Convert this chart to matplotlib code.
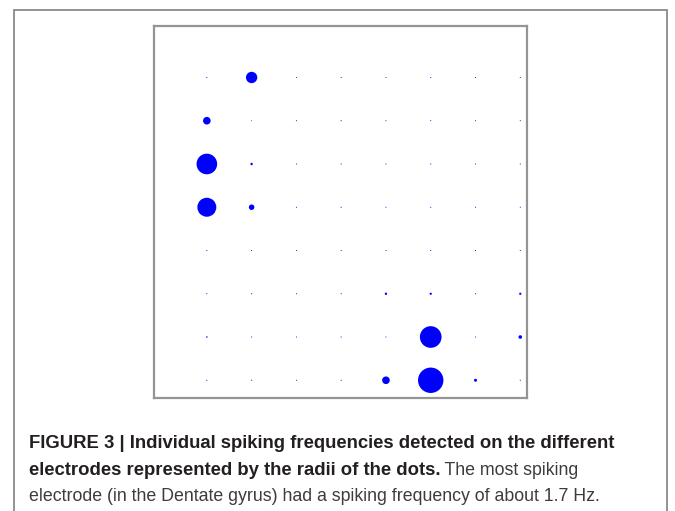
import numpy as np
import matplotlib
matplotlib.use('Agg')
import matplotlib.pyplot as plt
from matplotlib.patches import Rectangle

# spiking frequency per electrode [Hz], rows top -> bottom, cols left -> right
freq = [
    [0.07, 0.76, 0.07, 0.07, 0.07, 0.07, 0.07, 0.07],
    [0.51, 0.06, 0.07, 0.07, 0.07, 0.07, 0.07, 0.07],
    [1.38, 0.16, 0.07, 0.07, 0.07, 0.07, 0.07, 0.07],
    [1.27, 0.37, 0.07, 0.07, 0.07, 0.07, 0.07, 0.07],
    [0.07, 0.07, 0.07, 0.07, 0.07, 0.07, 0.07, 0.07],
    [0.07, 0.07, 0.07, 0.07, 0.16, 0.15, 0.07, 0.15],
    [0.10, 0.07, 0.07, 0.07, 0.07, 1.45, 0.07, 0.24],
    [0.07, 0.07, 0.07, 0.07, 0.51, 1.70, 0.20, 0.07],
]

caption_bold_1 = 'FIGURE 3 | Individual spiking frequencies detected on the different'
caption_bold_2 = 'electrodes represented by the radii of the dots.'
caption_reg_2 = ' The most spiking'
caption_reg_3 = 'electrode (in the Dentate gyrus) had a spiking frequency of about 1.7 Hz.'

W, H, dpi = 675, 511, 100
fig = plt.figure(figsize=(W / dpi, H / dpi), dpi=dpi)

# outer frame of the figure panel
fig.patches.append(Rectangle((14 / W, -0.1), (667 - 14) / W, 1.1 - 10 / H,
                             transform=fig.transFigure, fill=False,
                             edgecolor='#8a8a8a', linewidth=1.3))

ax = fig.add_axes([154 / W, (H - 398) / H, (527 - 154) / W, (398 - 26) / H])
f = np.array(freq)
rows, cols = np.indices(f.shape)
px_per_hz = 12.7 / 1.7                       # dot radius in pixels per Hz
s = (2 * f * px_per_hz * 72 / dpi) ** 2
ax.scatter(cols.ravel(), rows.ravel(), s=s.ravel(), c='#0000ff', linewidths=0)
ax.set_xlim(-1.18, 7.15)
ax.set_ylim(7.41, -1.19)
ax.set_xticks([])
ax.set_yticks([])
for sp in ax.spines.values():
    sp.set_color('#949494')
    sp.set_linewidth(1.6)

fam = ['Liberation Sans', 'DejaVu Sans']
fs_b = 13.3
fs_r = 12.8
x0 = 29 / W
fig.text(x0, 1 - 448 / H, caption_bold_1, fontsize=fs_b, fontweight='bold',
         color='#231f20', family=fam, va='baseline')
t2 = fig.text(x0, 1 - 474.5 / H, caption_bold_2, fontsize=fs_b, fontweight='bold',
              color='#231f20', family=fam, va='baseline')
fig.canvas.draw()
bb = t2.get_window_extent()
fig.text(bb.x1 / W, 1 - 474.5 / H, caption_reg_2, fontsize=fs_r, color='#3c3c3c',
         family=fam, va='baseline')
fig.text(x0, 1 - 500.5 / H, caption_reg_3, fontsize=fs_r, color='#3c3c3c',
         family=fam, va='baseline')

fig.savefig('out.png', dpi=dpi)
